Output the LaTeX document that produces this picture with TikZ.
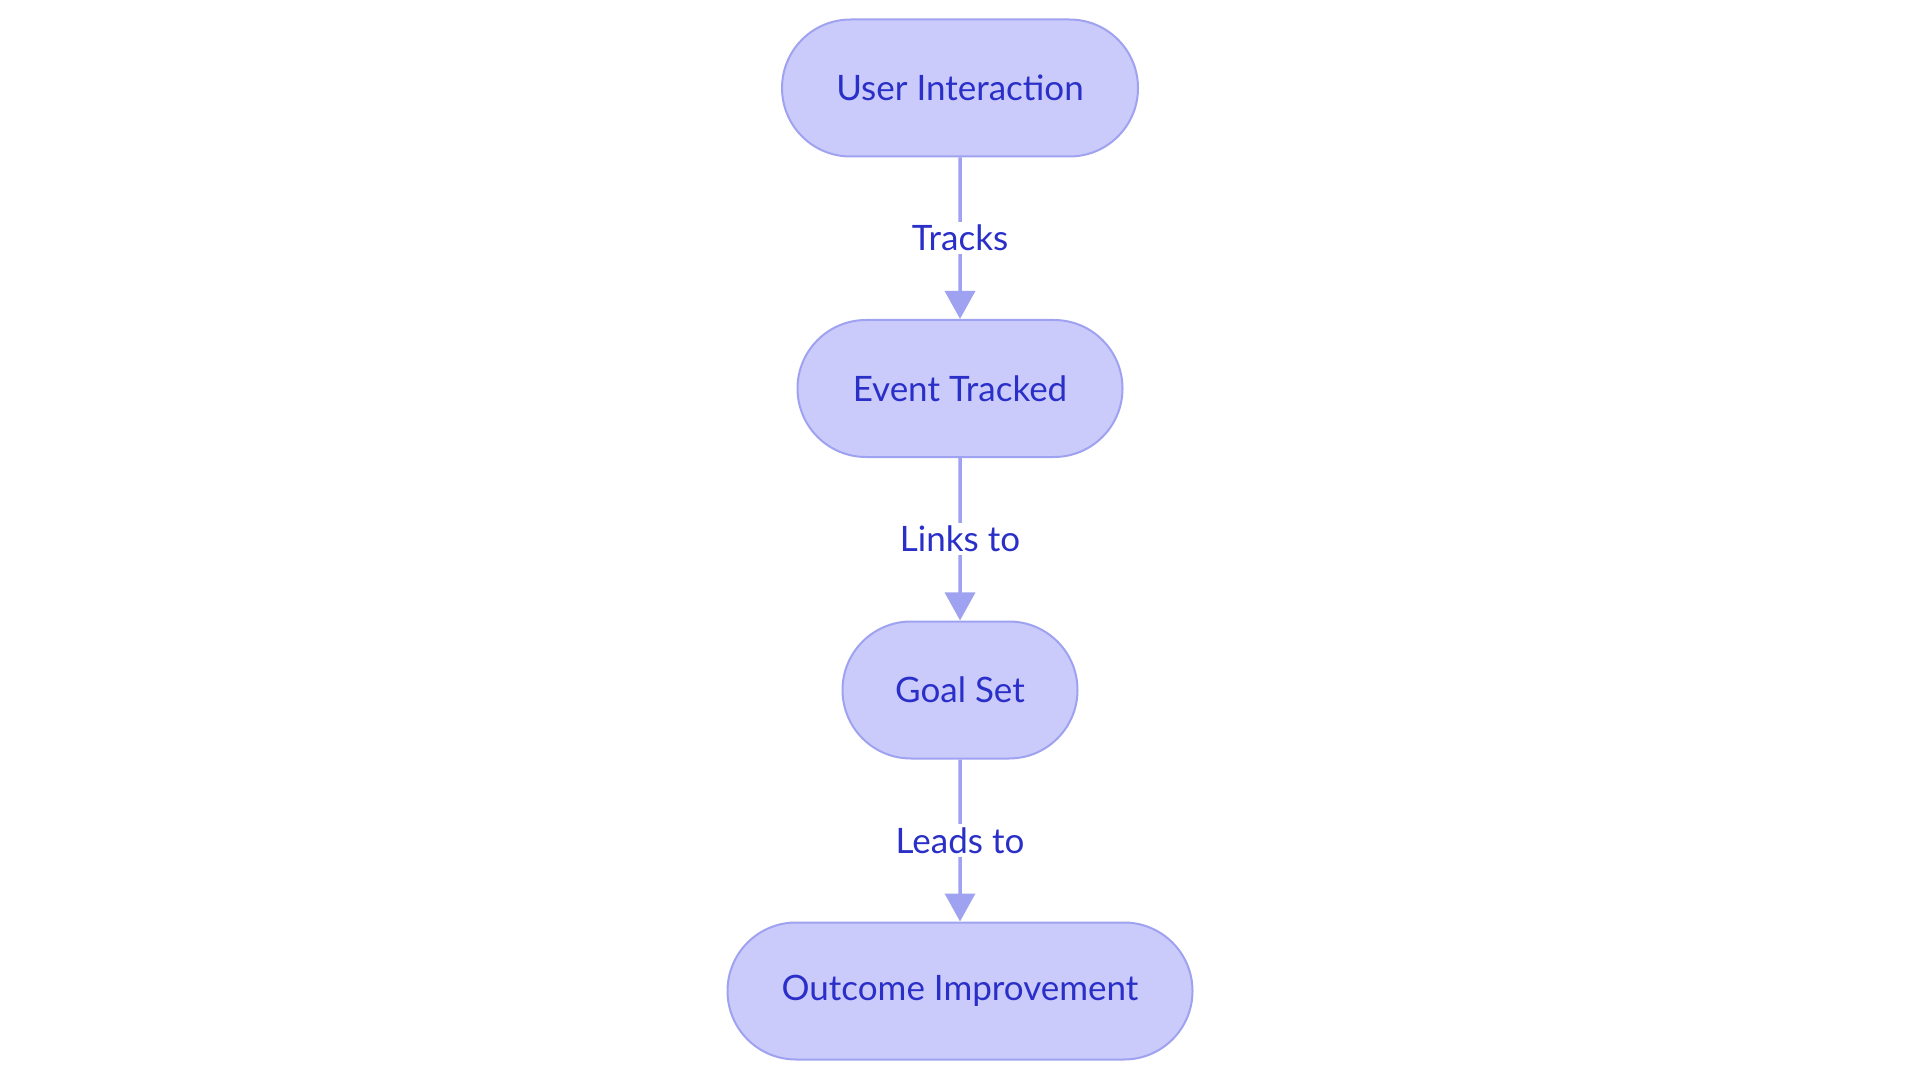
\documentclass[tikz,border=0pt]{standalone}
\usepackage{fontspec}
\setmainfont{Lato}
\usetikzlibrary{shapes.misc, arrows.meta}
\definecolor{nodefill}{HTML}{CACBFB}
\definecolor{nodedraw}{HTML}{9FA2F0}
\definecolor{txtblue}{HTML}{2A2FC8}
\definecolor{edgecol}{HTML}{9FA2F0}
\begin{document}
\begin{tikzpicture}[x=1pt,y=-1pt,
  stadium/.style={rounded rectangle, draw=nodedraw, fill=nodefill, line width=2pt,
    text=txtblue, font=\fontsize{35}{42}\selectfont, minimum height=137pt, inner xsep=0pt},
  conn/.style={draw=edgecol, line width=3.5pt, -{Triangle[length=28pt,width=30pt]}},
  elabel/.style={fill=white, text=txtblue, font=\fontsize{35}{42}\selectfont, inner xsep=2pt, inner ysep=3pt}]
\useasboundingbox (0,0) rectangle (1920,1083);
\node[stadium, minimum width=356pt] (ui) at (960,88) {User Interaction};
\node[stadium, minimum width=325pt] (et) at (960,388.5) {Event Tracked};
\node[stadium, minimum width=235pt] (gs) at (960,690) {Goal Set};
\node[stadium, minimum width=465pt] (oi) at (960,991) {Outcome Improvement};
\draw[conn] (ui) -- node[elabel] {Tracks} (et);
\draw[conn] (et) -- node[elabel] {Links to} (gs);
\draw[conn] (gs) -- node[elabel] {Leads to} (oi);
\end{tikzpicture}
\end{document}
